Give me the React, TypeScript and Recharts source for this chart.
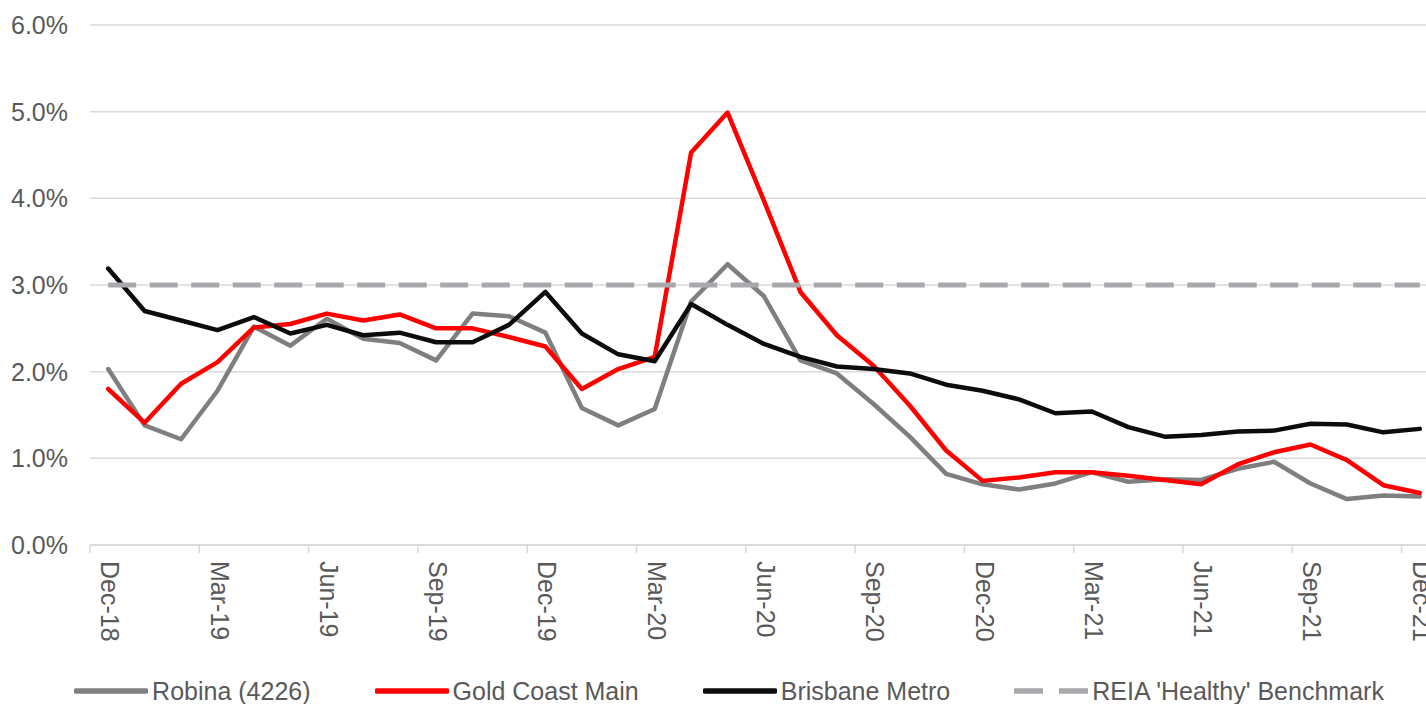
import React from "react";
import { LineChart, Line, XAxis, YAxis, CartesianGrid, Legend } from "recharts";

const MONTHS = [
  "Dec-18", "Jan-19", "Feb-19", "Mar-19", "Apr-19", "May-19", "Jun-19", "Jul-19", "Aug-19", "Sep-19",
  "Oct-19", "Nov-19", "Dec-19", "Jan-20", "Feb-20", "Mar-20", "Apr-20", "May-20", "Jun-20", "Jul-20",
  "Aug-20", "Sep-20", "Oct-20", "Nov-20", "Dec-20", "Jan-21", "Feb-21", "Mar-21", "Apr-21", "May-21",
  "Jun-21", "Jul-21", "Aug-21", "Sep-21", "Oct-21", "Nov-21", "Dec-21",
];

const ROBINA = [
  2.03, 1.38, 1.22, 1.78, 2.52, 2.30, 2.61, 2.38, 2.33, 2.13,
  2.67, 2.64, 2.45, 1.58, 1.38, 1.57, 2.81, 3.24, 2.87, 2.13,
  1.98, 1.63, 1.25, 0.82, 0.70, 0.64, 0.71, 0.84, 0.73, 0.76,
  0.75, 0.88, 0.96, 0.71, 0.53, 0.57, 0.56,
];

const GOLD_COAST = [
  1.80, 1.41, 1.86, 2.11, 2.51, 2.55, 2.67, 2.59, 2.66, 2.50,
  2.50, 2.40, 2.29, 1.80, 2.03, 2.17, 4.53, 4.99, 3.97, 2.92,
  2.42, 2.07, 1.61, 1.09, 0.74, 0.78, 0.84, 0.84, 0.80, 0.75,
  0.70, 0.93, 1.07, 1.16, 0.98, 0.69, 0.60,
];

const BRISBANE = [
  3.19, 2.70, 2.59, 2.48, 2.63, 2.44, 2.54, 2.42, 2.45, 2.34,
  2.34, 2.54, 2.92, 2.44, 2.20, 2.12, 2.78, 2.54, 2.32, 2.17,
  2.06, 2.03, 1.98, 1.85, 1.78, 1.68, 1.52, 1.54, 1.36, 1.25,
  1.27, 1.31, 1.32, 1.40, 1.39, 1.30, 1.34,
];

const BENCHMARK = [
  3.0, 3.0, 3.0, 3.0, 3.0, 3.0, 3.0, 3.0, 3.0, 3.0,
  3.0, 3.0, 3.0, 3.0, 3.0, 3.0, 3.0, 3.0, 3.0, 3.0,
  3.0, 3.0, 3.0, 3.0, 3.0, 3.0, 3.0, 3.0, 3.0, 3.0,
  3.0, 3.0, 3.0, 3.0, 3.0, 3.0, 3.0,
];

const TICK_LABELS = [
  "Dec-18", "Mar-19", "Jun-19", "Sep-19", "Dec-19", "Mar-20", "Jun-20",
  "Sep-20", "Dec-20", "Mar-21", "Jun-21", "Sep-21", "Dec-21",
];

const Y_TICKS = [0, 1, 2, 3, 4, 5, 6];

const SERIES = [
  { key: "robina", name: "Robina (4226)", color: "#7f7f7f", width: 4.5, dash: undefined as string | undefined },
  { key: "goldCoast", name: "Gold Coast Main", color: "#ff0000", width: 4.5, dash: undefined as string | undefined },
  { key: "brisbane", name: "Brisbane Metro", color: "#0d0b0b", width: 4.5, dash: undefined as string | undefined },
  { key: "benchmark", name: "REIA 'Healthy' Benchmark", color: "#a9a9ad", width: 5, dash: "28 13.5" },
];

const data = MONTHS.map((m, i) => ({
  month: m,
  robina: ROBINA[i],
  goldCoast: GOLD_COAST[i],
  brisbane: BRISBANE[i],
  benchmark: BENCHMARK[i],
}));

const FONT = "'Liberation Sans', Arial, sans-serif";
const TEXT_COLOR = "#595959";
const FONT_SIZE = 25;
const CHART_W = 1440;
const CHART_H = 704;
const LEFT = 90;
const RIGHT_MARGIN = 2;
const STEP = (CHART_W - LEFT - RIGHT_MARGIN) / MONTHS.length;

const MonthTick = (props: any) => {
  const { x, y, payload } = props;
  const axisY = y - 8;
  const startY = y + 8;
  return (
    <g>
      <line x1={x - STEP / 2} x2={x - STEP / 2} y1={axisY} y2={axisY + 8} stroke="#d9d9d9" strokeWidth={1.5} />
      <text
        x={x}
        y={startY}
        dy={7}
        transform={`rotate(90, ${x}, ${startY})`}
        textAnchor="start"
        fill={TEXT_COLOR}
        fontSize={FONT_SIZE}
        fontFamily={FONT}
      >
        {payload.value}
      </text>
    </g>
  );
};

const CustomLegend = () => (
  <div
    style={{
      display: "flex",
      justifyContent: "center",
      alignItems: "center",
      height: 26,
      paddingLeft: 20,
      fontFamily: FONT,
      fontSize: FONT_SIZE,
      color: TEXT_COLOR,
      whiteSpace: "nowrap",
    }}
  >
    {SERIES.map((s, i) => (
      <div key={s.key} style={{ display: "flex", alignItems: "center", marginLeft: i === 0 ? 0 : 64 }}>
        <svg width={74} height={10} style={{ marginRight: 4 }}>
          <line
            x1={s.dash ? 0 : 2}
            x2={s.dash ? 74 : 72}
            y1={5}
            y2={5}
            stroke={s.color}
            strokeWidth={5.5}
            strokeDasharray={s.dash ? "29 16" : undefined}
            strokeLinecap={s.dash ? "butt" : "round"}
          />
        </svg>
        <span>{s.name}</span>
      </div>
    ))}
  </div>
);

export default function App() {
  return (
    <div style={{ position: "absolute", left: 0, top: 0, width: 1426, height: 704, overflow: "hidden", background: "#fff" }}>
      <LineChart width={CHART_W} height={CHART_H} data={data} margin={{ top: 25, right: RIGHT_MARGIN, left: 0, bottom: 0 }}>
        <CartesianGrid vertical={false} stroke="#d9d9d9" strokeWidth={1.5} />
        <XAxis
          dataKey="month"
          ticks={TICK_LABELS}
          interval={0}
          padding={{ left: STEP / 2, right: STEP / 2 }}
          tickLine={false}
          axisLine={{ stroke: "#d9d9d9", strokeWidth: 1.5 }}
          height={133}
          tick={<MonthTick />}
        />
        <YAxis
          width={LEFT}
          domain={[0, 6]}
          ticks={Y_TICKS}
          axisLine={false}
          tickLine={false}
          tickMargin={16}
          tickFormatter={(v: number) => `${v.toFixed(1)}%`}
          tick={{ fill: TEXT_COLOR, fontSize: FONT_SIZE, fontFamily: FONT }}
        />
        <Legend verticalAlign="bottom" content={<CustomLegend />} />
        {SERIES.map((s) => (
          <Line
            key={s.key}
            type="linear"
            dataKey={s.key}
            name={s.name}
            stroke={s.color}
            strokeWidth={s.width}
            strokeDasharray={s.dash}
            strokeLinejoin="round"
            strokeLinecap={s.dash ? "butt" : "round"}
            dot={false}
            activeDot={false}
            isAnimationActive={false}
          />
        ))}
      </LineChart>
    </div>
  );
}
